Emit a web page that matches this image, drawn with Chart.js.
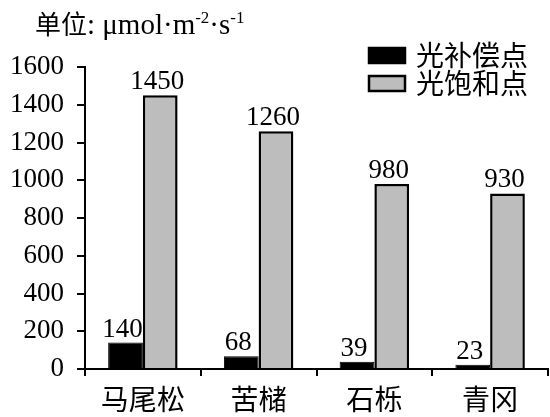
<!DOCTYPE html>
<html>
<head>
<meta charset="utf-8">
<script src="https://cdn.jsdelivr.net/npm/chart.js@4"></script>
<style>
  html, body { margin: 0; padding: 0; background: #fff; }
  #wrap { width: 550px; height: 417px; }
</style>
</head>
<body>
<div id="wrap"><canvas id="lightChart" width="550" height="417"></canvas></div>
<script>
// data
const species = ['马尾松', '苦槠', '石栎', '青冈'];
const compensationPoint = [140, 68, 39, 23];
const saturationPoint = [1450, 1260, 980, 930];
const seriesNames = ['光补偿点', '光饱和点'];
const yTicks = [0, 200, 400, 600, 800, 1000, 1200, 1400, 1600];

const serif = "'Liberation Serif', 'Noto Sans CJK SC', serif";

// unit title with superscripts, bar value labels, and legend box
const decorations = {
    id: 'decorations',
    afterDatasetsDraw(chart) {
        const ctx = chart.ctx;
        ctx.save();
        ctx.fillStyle = '#000';
        ctx.textBaseline = 'alphabetic';

        // title: 单位: μmol·m-2·s-1
        let x = 35;
        const y = 34;
        const parts = [
            ['单位', 26, 0], [': μmol·m', 29, 0], ['-2', 17, -11],
            ['·s', 29, 0], ['-1', 17, -11]
        ];
        parts.forEach(([t, size, dy]) => {
            ctx.font = size === 26 ? `${size}px 'Noto Sans CJK SC', serif` : `${size}px ${serif}`;
            ctx.fillText(t, x, y + dy);
            x += ctx.measureText(t).width;
        });

        // value labels above bars
        ctx.font = `27px ${serif}`;
        ctx.textAlign = 'center';
        chart.data.datasets.forEach((ds, i) => {
            chart.getDatasetMeta(i).data.forEach((bar, j) => {
                ctx.fillText(String(ds.data[j]), bar.x - 3, bar.y - 6);
            });
        });

        // legend
        ctx.textAlign = 'left';
        ctx.textBaseline = 'middle';
        ctx.font = "28px 'Noto Sans CJK SC', serif";
        chart.data.datasets.forEach((ds, i) => {
            const ly = 55 + i * 28;
            ctx.fillStyle = ds.backgroundColor;
            ctx.fillRect(369, ly - 7, 36, 15);
            ctx.lineWidth = 2.5;
            ctx.strokeStyle = '#000';
            ctx.strokeRect(369, ly - 7, 36, 15);
            ctx.fillStyle = '#000';
            ctx.fillText(ds.label, 416, ly);
        });
        ctx.restore();
    }
};

new Chart(document.getElementById('lightChart').getContext('2d'), {
    type: 'bar',
    data: {
        labels: species,
        datasets: [{
            label: seriesNames[0],
            data: compensationPoint,
            backgroundColor: '#000000',
            borderColor: '#000000',
            borderWidth: 1
        }, {
            label: seriesNames[1],
            data: saturationPoint,
            backgroundColor: '#bdbdbd',
            borderColor: '#000000',
            borderWidth: 2.5
        }]
    },
    options: {
        responsive: false,
        animation: false,
        layout: { padding: { top: 67, right: 2, left: 0, bottom: 0 } },
        plugins: {
            legend: { display: false },
            tooltip: { enabled: false }
        },
        datasets: {
            bar: { categoryPercentage: 0.6, barPercentage: 1.0 }
        },
        scales: {
            x: {
                grid: { drawOnChartArea: false, drawTicks: true, tickLength: 7, color: '#000', lineWidth: 2, offset: true },
                border: { display: true, color: '#000', width: 2 },
                ticks: { color: '#000', font: { family: "'Noto Sans CJK SC', serif", size: 28 }, padding: 7 },
                afterFit(scale) { scale.height = 48; }
            },
            y: {
                min: 0,
                max: 1600,
                afterBuildTicks(scale) { scale.ticks = yTicks.map(v => ({ value: v })); },
                grid: { drawOnChartArea: false, drawTicks: true, tickLength: 8, color: '#000', lineWidth: 2 },
                border: { display: true, color: '#000', width: 2 },
                ticks: {
                    color: '#000',
                    font: { family: serif, size: 27 },
                    padding: 13,
                    callback: v => String(v)
                },
                afterFit(scale) { scale.width = 85; }
            }
        }
    },
    plugins: [decorations]
});
</script>
</body>
</html>
